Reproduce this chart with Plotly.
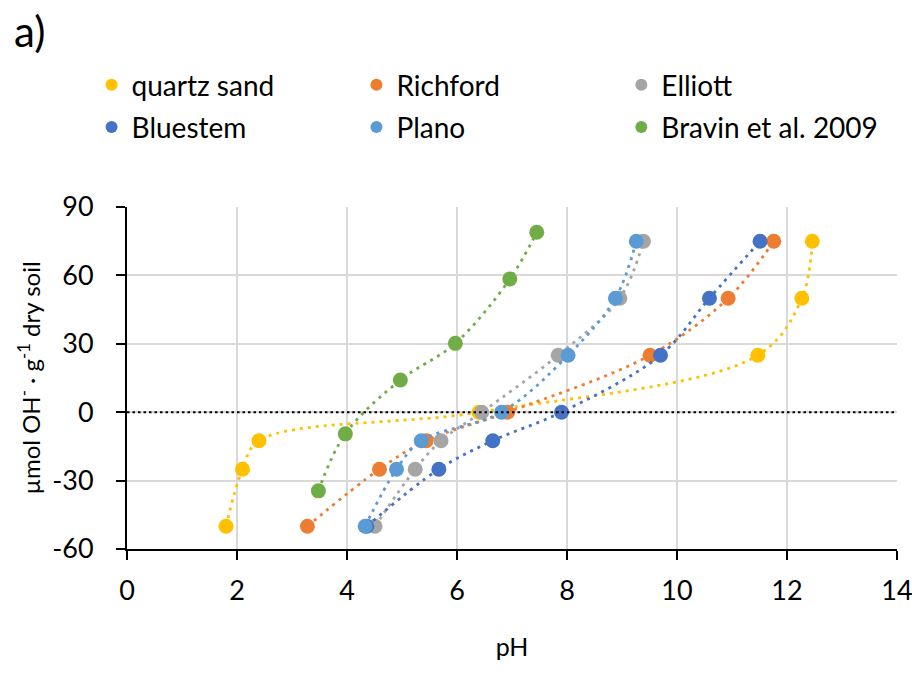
import plotly.graph_objects as go

# Titration data: pH reached after each addition of base/acid
amount_soil = [-50, -25, -12.5, 0, 25, 50, 75]  # µmol OH- per g dry soil

ph_quartz = [1.8, 2.1, 2.4, 6.4, 11.47, 12.27, 12.46]
ph_richford = [3.28, 4.59, 5.44, 6.92, 9.51, 10.93, 11.76]
ph_elliott = [4.51, 5.24, 5.71, 6.45, 7.84, 8.96, 9.39]
ph_bluestem = [4.36, 5.67, 6.65, 7.90, 9.70, 10.59, 11.51]
ph_plano = [4.33, 4.90, 5.35, 6.81, 8.02, 8.88, 9.26]

# Bravin et al. 2009
ph_bravin = [3.48, 3.97, 4.97, 5.97, 6.96, 7.45]
amount_bravin = [-34.5, -9.5, 14.1, 30.2, 58.4, 78.9]

x_ticks = [0, 2, 4, 6, 8, 10, 12, 14]
y_ticks = [-60, -30, 0, 30, 60, 90]

series = [
    ("quartz sand", ph_quartz, amount_soil, "#FFC000", "legend"),
    ("Richford", ph_richford, amount_soil, "#ED7D31", "legend2"),
    ("Elliott", ph_elliott, amount_soil, "#A5A5A5", "legend3"),
    ("Bluestem", ph_bluestem, amount_soil, "#4472C4", "legend"),
    ("Plano", ph_plano, amount_soil, "#5B9BD5", "legend2"),
    ("Bravin et al. 2009", ph_bravin, amount_bravin, "#70AD47", "legend3"),
]

FONT = "Lato"

fig = go.Figure()
for name, xs, ys, color, leg in series:
    fig.add_trace(go.Scatter(
        x=xs, y=ys, mode="lines", showlegend=False, legendgroup=name,
        line=dict(color=color, width=2.8, dash="3px,5px", shape="spline", smoothing=1),
        hoverinfo="skip",
    ))
    fig.add_trace(go.Scatter(
        x=xs, y=ys, mode="markers", name=name, legendgroup=name, legend=leg,
        marker=dict(color=color, size=15, line=dict(width=0)),
    ))

# Dotted reference line at zero
fig.add_shape(type="line", xref="x", yref="y", x0=0, x1=14, y0=0, y1=0,
              line=dict(color="black", width=2, dash="2.5px,3px"), layer="above")

fig.add_annotation(text="a)", xref="paper", yref="paper", x=-0.149, y=1.516,
                   xanchor="left", yanchor="middle", showarrow=False,
                   font=dict(family=FONT, size=42, color="black"))

legend_common = dict(
    orientation="v", yanchor="top", xanchor="left", y=1.43,
    font=dict(family=FONT, size=28, color="black"),
    bgcolor="rgba(0,0,0,0)", tracegroupgap=3, itemsizing="constant",
)

fig.update_layout(
    template="none",
    width=912, height=698,
    margin=dict(l=127, r=15, t=207, b=149),
    paper_bgcolor="white", plot_bgcolor="white",
    font=dict(family=FONT, size=24, color="black"),
    legend=dict(x=-0.046, **legend_common),
    legend2=dict(x=0.298, **legend_common),
    legend3=dict(x=0.642, **legend_common),
    xaxis=dict(
        range=[0, 14], tickvals=x_ticks, ticktext=[str(v) for v in x_ticks],
        showgrid=True, gridcolor="#D9D9D9", gridwidth=1.5,
        showline=True, linecolor="black", linewidth=2,
        ticks="outside", ticklen=9, tickwidth=1.5, tickcolor="black",
        zeroline=False, ticklabelstandoff=8, automargin=False,
        ticklabeloverflow="allow",
        title=dict(text="pH", font=dict(family=FONT, size=25), standoff=33),
        tickfont=dict(family=FONT, size=27),
    ),
    yaxis=dict(
        range=[-60, 90], tickvals=y_ticks, ticktext=[str(v) for v in y_ticks],
        showgrid=True, gridcolor="#D9D9D9", gridwidth=1.5,
        showline=True, linecolor="black", linewidth=2,
        ticks="outside", ticklen=9, tickwidth=1.5, tickcolor="black",
        zeroline=False, ticklabelstandoff=17, automargin=False,
        ticklabeloverflow="allow",
        title=dict(text="µmol OH<sup>-</sup> · g<sup>-1</sup> dry soil",
                   font=dict(family=FONT, size=24), standoff=5),
        tickfont=dict(family=FONT, size=27),
    ),
)

fig.write_html("out.html")
